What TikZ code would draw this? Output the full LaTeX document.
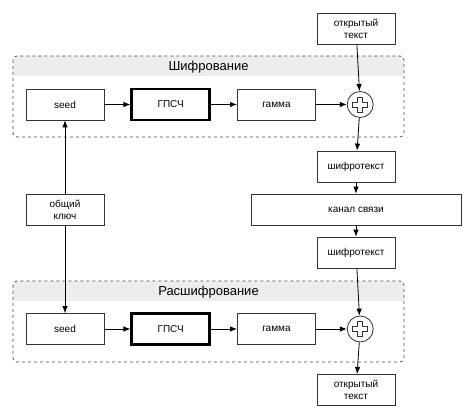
\documentclass[tikz,border=0pt]{standalone}
\usepackage{fontspec}
\setmainfont{Liberation Sans}
\usetikzlibrary{arrows.meta}
\usetikzlibrary{positioning}

\begin{document}
\begin{tikzpicture}[x=1pt,y=-1pt,>={Latex[length=7pt,width=5.5pt]},line width=0.8pt,
    every node/.append style={align=center,font=\fontsize{10}{12}\selectfont},
    blk/.style={draw=black!80, fill=white, minimum width=78pt, minimum height=31pt, inner sep=0pt},
    gen/.style={blk, line width=2.6pt, draw=black},
    xor/.style={draw=black!80, fill=white, circle, minimum size=26pt, inner sep=0pt},
    grp/.style={draw=black!70, dashed, rounded corners=4pt, line width=0.7pt},
    ttl/.style={font=\fontsize{13}{15}\selectfont}]
        \useasboundingbox (0,0) rectangle (474,419);

        % Шифрование
        \fill[black!7] (13,76) {[rounded corners=4pt] -- (13,56) -- (404,56)} -- (404,76) -- cycle;
        \draw[grp] (13,56) rectangle (404,137);
        \node[ttl] (enc) at (208.5,67) {Шифрование};
        \node[blk] (seed1) at (65,104.5) {seed};
        \node[gen, right=26pt of seed1] (prng1) {ГПСЧ};
        \node[blk, right=26pt of prng1] (gam1) {гамма};
        \node[xor, right=31pt of gam1] (x1) {};

        % Расшифрование
        \fill[black!7] (13,301) {[rounded corners=4pt] -- (13,281) -- (404,281)} -- (404,301) -- cycle;
        \draw[grp] (13,281) rectangle (404,362);
        \node[ttl] (dec) at (208.5,292) {Расшифрование};
        \node[blk] (seed2) at (65,329) {seed};
        \node[gen, right=26pt of seed2] (prng2) {ГПСЧ};
        \node[blk, right=26pt of prng2] (gam2) {гамма};
        \node[xor, right=31pt of gam2] (x2) {};

        \foreach \c in {x1,x2}
            \draw[black!80, line width=0.7pt, shift={(\c.center)}] (-2.5,-7.5) -- (2.5,-7.5) -- (2.5,-2.5) -- (7.5,-2.5) -- (7.5,2.5) -- (2.5,2.5) -- (2.5,7.5) -- (-2.5,7.5) -- (-2.5,2.5) -- (-7.5,2.5) -- (-7.5,-2.5) -- (-2.5,-2.5) -- cycle;

        \node[blk] (open1) at (356,28.5) {открытый\\текст};
        \node[blk] (ct1) at (356,166.5) {шифротекст};
        \node[blk, minimum width=210pt] (chan) at (356,209.5) {канал связи};
        \node[blk] (ct2) at (356,252.5) {шифротекст};
        \node[blk] (open2) at (356,390) {открытый\\текст};
        \node[blk] (key) at (65,209.5) {общий\\ключ};

        \draw[->] (seed1) -- (prng1);
        \draw[->] (prng1) -- (gam1);
        \draw[->] (gam1) -- (x1);
        \draw[->] (open1) -- (x1);
        \draw[->] (x1) -- (ct1);
        \draw[->] (ct1) -- (chan);
        \draw[->] (chan) -- (ct2);
        \draw[->] (ct2) -- (x2);
        \draw[->] (seed2) -- (prng2);
        \draw[->] (prng2) -- (gam2);
        \draw[->] (gam2) -- (x2);
        \draw[->] (x2) -- (open2);
        \draw[->] (key) -- (seed1);
        \draw[->] (key) -- (seed2);
    \end{tikzpicture}
\end{document}
